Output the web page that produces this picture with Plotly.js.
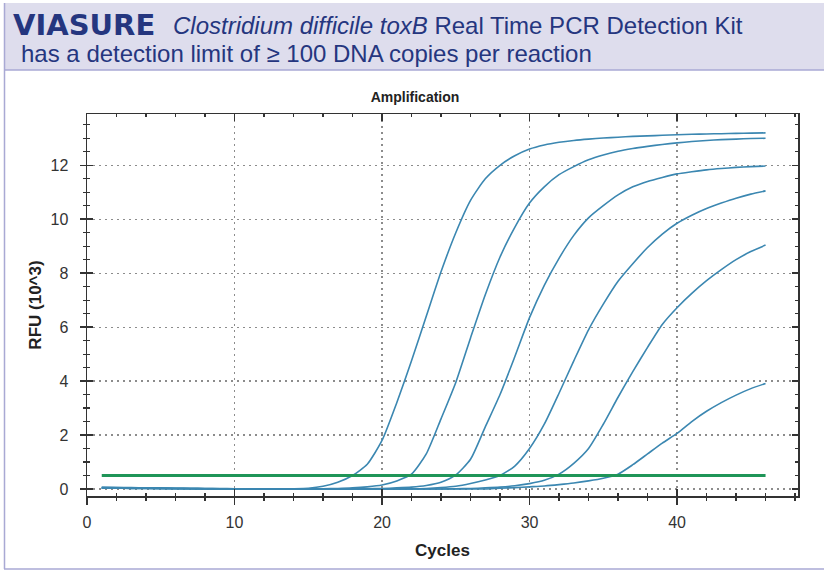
<!DOCTYPE html>
<html>
<head>
<meta charset="utf-8">
<script src="https://cdn.plot.ly/plotly-3.0.1.min.js"></script>
<style>
  html, body { margin: 0; padding: 0; background: #ffffff; }
  #chart { width: 824px; height: 574px; }
</style>
</head>
<body>
<div id="chart"></div>
<script>
// ---- data ----
const cycles = [1,2,3,4,5,6,7,8,9,10,11,12,13,14,15,16,17,18,19,20,21,22,23,24,25,26,27,28,29,30,31,32,33,34,35,36,37,38,39,40,41,42,43,44,45,46];
const sampleA = [0.06,0.05,0.05,0.04,0.04,0.03,0.03,0.02,0.02,0.01,0.01,0.00,0.00,0.01,0.03,0.10,0.25,0.50,0.92,1.80,3.20,4.75,6.40,8.05,9.50,10.70,11.50,12.00,12.35,12.60,12.75,12.85,12.92,12.97,13.01,13.04,13.07,13.09,13.11,13.13,13.15,13.16,13.17,13.18,13.19,13.20];
const sampleB = [0.04,0.04,0.03,0.03,0.02,0.02,0.01,0.01,0.01,0.00,0.00,0.00,0.00,0.00,0.00,0.01,0.02,0.04,0.08,0.15,0.30,0.55,1.30,2.60,3.95,5.60,7.20,8.60,9.70,10.60,11.20,11.65,11.95,12.20,12.38,12.52,12.62,12.70,12.77,12.83,12.88,12.92,12.95,12.97,12.99,13.00];
const sampleC = [0.03,0.03,0.02,0.02,0.02,0.01,0.01,0.01,0.00,0.00,0.00,0.00,0.00,0.00,0.00,0.00,0.00,0.00,0.01,0.02,0.04,0.07,0.13,0.25,0.52,1.10,2.30,3.50,4.90,6.35,7.55,8.55,9.40,10.05,10.50,10.90,11.20,11.40,11.55,11.68,11.76,11.83,11.88,11.92,11.95,11.97];
const sampleD = [0.05,0.04,0.04,0.03,0.03,0.02,0.02,0.01,0.01,0.00,0.00,0.00,0.00,0.00,0.00,0.00,0.00,0.00,0.00,0.00,0.00,0.01,0.02,0.05,0.10,0.20,0.33,0.50,0.85,1.50,2.40,3.55,4.75,5.90,6.85,7.70,8.35,8.95,9.45,9.85,10.15,10.40,10.60,10.78,10.93,11.05];
const sampleE = [0.03,0.03,0.02,0.02,0.01,0.01,0.01,0.00,0.00,0.00,0.00,0.00,0.00,0.00,0.00,0.00,0.00,0.00,0.00,0.00,0.00,0.00,0.00,0.00,0.01,0.02,0.04,0.07,0.12,0.20,0.32,0.55,0.95,1.50,2.40,3.40,4.35,5.25,6.10,6.72,7.25,7.72,8.13,8.50,8.80,9.04];
const sampleF = [0.05,0.05,0.04,0.04,0.03,0.03,0.02,0.02,0.01,0.01,0.00,0.00,0.00,0.00,0.00,0.00,0.00,0.00,0.00,0.00,0.00,0.00,0.00,0.00,0.00,0.00,0.00,0.03,0.05,0.08,0.11,0.16,0.22,0.30,0.40,0.55,0.90,1.30,1.70,2.06,2.50,2.88,3.20,3.48,3.72,3.91];
const thresholdX = [1, 46];
const thresholdY = [0.5, 0.5];
const seriesList = [sampleA, sampleB, sampleC, sampleD, sampleE, sampleF];

const xTickVals = [0, 10, 20, 30, 40];
const yTickVals = [0, 2, 4, 6, 8, 10, 12];

// ---- layout geometry helpers (plot area in pixels) ----
const W = 824, H = 574;
const L = 87, R = 798, T = 114, B = 496;
const px = v => (v - L) / (R - L);
const py = v => (B - v) / (B - T);

const curveColor = '#3b87b1';
const traces = seriesList.map(s => ({
  x: cycles, y: s, type: 'scatter', mode: 'lines',
  line: { color: curveColor, width: 1.6, shape: 'spline', smoothing: 0.6 }, hoverinfo: 'skip', showlegend: false
}));
traces.push({
  x: thresholdX, y: thresholdY, type: 'scatter', mode: 'lines',
  xaxis: 'x2', yaxis: 'y2',
  line: { color: '#1f9558', width: 3 }, hoverinfo: 'skip', showlegend: false
});

const xr = [0, 48.2], yr = [-0.26, 13.9];
const baseFont = 'Liberation Sans, Arial, sans-serif';
const navy = '#25367f';
const axisCol = '#333333';

const layout = {
  width: W, height: H,
  margin: { l: L, r: W - R, t: T, b: H - B, pad: 0 },
  paper_bgcolor: '#ffffff', plot_bgcolor: '#ffffff',
  showlegend: false,
  font: { family: baseFont, color: axisCol },
  title: {
    text: '<b>Amplification</b>', xref: 'container', yref: 'container',
    x: 415 / W, y: 1 - 97 / H, xanchor: 'center', yanchor: 'middle',
    font: { size: 14, color: '#222' }
  },
  xaxis: {
    range: xr, tickvals: xTickVals, ticks: 'outside', ticklen: 7, tickwidth: 1.5, tickcolor: axisCol,
    minor: { dtick: 2, tick0: 0, ticks: 'outside', ticklen: 3, tickwidth: 1.2, tickcolor: axisCol, showgrid: false },
    showline: true, linecolor: axisCol, linewidth: 1.5, mirror: true,
    showgrid: true, gridcolor: '#8c8c8c', gridwidth: 1.2, griddash: '2px,4px',
    zeroline: false, ticklabelstandoff: 4,
    tickfont: { size: 16, color: axisCol },
    title: { text: '<b>Cycles</b>', font: { size: 17, color: '#222' }, standoff: 14 },
    fixedrange: true
  },
  yaxis: {
    range: yr, tickvals: yTickVals, ticks: 'outside', ticklen: 6, tickwidth: 1.5, tickcolor: axisCol,
    minor: { dtick: 0.5, tick0: 0, ticks: 'outside', ticklen: 3, tickwidth: 1.2, tickcolor: axisCol, showgrid: false },
    showline: true, linecolor: axisCol, linewidth: 1.5, mirror: true,
    showgrid: true, gridcolor: '#8c8c8c', gridwidth: 1.2, griddash: '2px,4px',
    zeroline: false, ticklabelstandoff: 8,
    tickfont: { size: 16, color: axisCol },
    title: { text: '<b>RFU (10^3)</b>', font: { size: 17, color: '#222' }, standoff: 4 },
    fixedrange: true
  },
  xaxis2: {
    overlaying: 'x', anchor: 'y2', range: xr, tickvals: xTickVals, ticks: 'inside', ticklen: 7, tickwidth: 1.5, tickcolor: axisCol,
    minor: { dtick: 2, tick0: 0, ticks: 'inside', ticklen: 3, tickwidth: 1.2, tickcolor: axisCol },
    mirror: 'ticks', showline: false, showgrid: false, zeroline: false, showticklabels: false, fixedrange: true
  },
  yaxis2: {
    overlaying: 'y', anchor: 'x2', range: yr, tickvals: yTickVals, ticks: 'inside', ticklen: 6, tickwidth: 1.5, tickcolor: axisCol,
    minor: { dtick: 0.5, tick0: 0, ticks: 'inside', ticklen: 3, tickwidth: 1.2, tickcolor: axisCol },
    mirror: 'ticks', showline: false, showgrid: false, zeroline: false, showticklabels: false, fixedrange: true
  },
  shapes: [
    { type: 'rect', xref: 'paper', yref: 'paper', layer: 'below',
      x0: px(4), x1: px(826), y0: py(70), y1: py(3),
      fillcolor: '#dedded', line: { width: 0 } },
    { type: 'line', xref: 'paper', yref: 'paper', layer: 'below',
      x0: px(4), x1: px(826), y0: py(70), y1: py(70), line: { color: '#a9a9d4', width: 1.5 } },
    { type: 'line', xref: 'paper', yref: 'paper', layer: 'below',
      x0: px(4.5), x1: px(4.5), y0: py(569), y1: py(3), line: { color: '#a9a9d4', width: 1.5 } },
    { type: 'line', xref: 'paper', yref: 'paper', layer: 'below',
      x0: px(4), x1: px(826), y0: py(569), y1: py(569), line: { color: '#a9a9d4', width: 1.5 } }
  ],
  annotations: [
    { text: '<b>VIASURE</b>', xref: 'paper', yref: 'paper', x: px(11), y: py(25),
      xanchor: 'left', yanchor: 'middle', showarrow: false,
      font: { family: 'DejaVu Sans, Liberation Sans, sans-serif', size: 29, color: navy } },
    { text: '<i>Clostridium difficile toxB</i> Real Time PCR Detection Kit', xref: 'paper', yref: 'paper',
      x: px(171), y: py(26), xanchor: 'left', yanchor: 'middle', showarrow: false,
      font: { family: baseFont, size: 24, color: navy } },
    { text: 'has a detection limit of ≥ 100 DNA copies per reaction', xref: 'paper', yref: 'paper',
      x: px(19), y: py(53), xanchor: 'left', yanchor: 'middle', showarrow: false,
      font: { family: baseFont, size: 24, color: navy } }
  ]
};

Plotly.newPlot('chart', traces, layout, { staticPlot: true, displayModeBar: false });
</script>
</body>
</html>
